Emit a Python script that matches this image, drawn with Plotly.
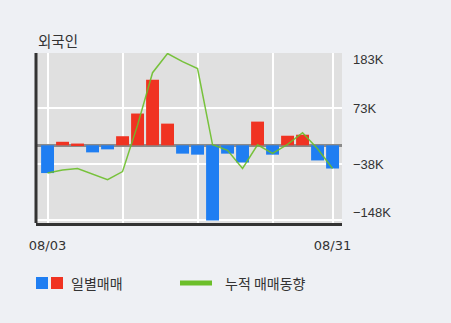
import plotly.graph_objects as go

dates = ["08/03", "08/06", "08/07", "08/08", "08/09", "08/10", "08/13", "08/14",
         "08/16", "08/17", "08/20", "08/21", "08/22", "08/23", "08/24",
         "08/27", "08/28", "08/29", "08/30", "08/31"]
daily = [-55, 7, 3.5, -14, -8, 18, 63, 130, 43, -16.5, -18.5, -149, -16.5, -34,
         47, -18.5, 19, 21, -30, -46]
cumulative = [-55, -49, -46, -57, -68, -52, 40, 144, 182, 166, 152, 1, -10, -46,
              1, -16, 2, 25, -7, -46]
ytick_vals = [183, 73, -38, -148]
ytick_text = ["183K", "73K", "\u221238K", "\u2212148K"]
ytick_shift = [-6, 0, 0, 7]
xtick_vals = ["08/03", "08/10", "08/20", "08/27", "08/31"]
xtick_text = ["08/03", "", "", "", "08/31"]

BLUE = "#1f7ef2"
RED = "#f03322"
GREEN = "#6cbf2a"
TXT = "#333333"

bar_colors = [RED if v > 0 else BLUE for v in daily]

fig = go.Figure()
fig.add_trace(go.Bar(x=dates, y=daily, marker=dict(color=bar_colors, line=dict(width=0)),
                     width=0.86, showlegend=False))
fig.add_trace(go.Scatter(x=dates, y=cumulative, mode="lines",
                         line=dict(color=GREEN, width=1.5), opacity=0.9, showlegend=False))

fig.update_layout(
    width=451, height=323,
    margin=dict(l=36, r=109, t=53, b=100),
    paper_bgcolor="#eef0f4",
    plot_bgcolor="#e0e0e0",
    font=dict(family="Liberation Sans, Arial, sans-serif", size=12, color=TXT),
    xaxis=dict(
        type="category", range=[-0.77, 19.63],
        tickvals=xtick_vals, ticktext=xtick_text,
        showgrid=True, gridcolor="#ffffff", gridwidth=1.5,
        showline=True, linecolor=TXT, linewidth=3,
        ticks="", ticklabelstandoff=8,
        tickfont=dict(family="DejaVu Sans", size=13, color=TXT),
    ),
    yaxis=dict(
        side="right", range=[-154, 183],
        tickvals=ytick_vals, ticktext=["" for _ in ytick_vals],
        showgrid=True, gridcolor="#ffffff", gridwidth=1.5,
        zeroline=True, zerolinecolor="#8a8a8a", zerolinewidth=3,
        ticks="",
    ),
)

W = 451 - 36 - 109
H = 323 - 53 - 100


def px(x):
    return (x - 36) / W


def py(y):
    return (223 - y) / H


# left spine
fig.add_shape(type="line", xref="paper", yref="paper", x0=0, x1=0, y0=0, y1=1,
              line=dict(color=TXT, width=3))

# y tick labels (value-anchored)
for v, t, s in zip(ytick_vals, ytick_text, ytick_shift):
    fig.add_annotation(text=t, xref="paper", yref="y", x=1, y=v, xshift=9, yshift=s,
                       xanchor="left", yanchor="middle", showarrow=False,
                       font=dict(family="Liberation Sans", size=13, color=TXT))

# legend
fig.add_shape(type="rect", xref="paper", yref="paper", x0=px(36), x1=px(48), y0=py(289), y1=py(277),
              line=dict(width=0), fillcolor=BLUE)
fig.add_shape(type="rect", xref="paper", yref="paper", x0=px(51), x1=px(63), y0=py(289), y1=py(277),
              line=dict(width=0), fillcolor=RED)
fig.add_shape(type="line", xref="paper", yref="paper", x0=px(180), x1=px(212), y0=py(283), y1=py(283),
              line=dict(color=GREEN, width=5))

fig.add_annotation(text="외국인", xref="paper", yref="paper", x=px(36), y=py(40),
                   xanchor="left", yanchor="middle", showarrow=False,
                   font=dict(family="Noto Sans CJK KR", size=14.5, color=TXT))
fig.add_annotation(text="일별매매", xref="paper", yref="paper", x=px(69), y=py(283),
                   xanchor="left", yanchor="middle", showarrow=False,
                   font=dict(family="Noto Sans CJK KR", size=14, color=TXT))
fig.add_annotation(text="누적 매매동향", xref="paper", yref="paper", x=px(223), y=py(283),
                   xanchor="left", yanchor="middle", showarrow=False,
                   font=dict(family="Noto Sans CJK KR", size=14, color=TXT))

fig.write_html("out.html")
